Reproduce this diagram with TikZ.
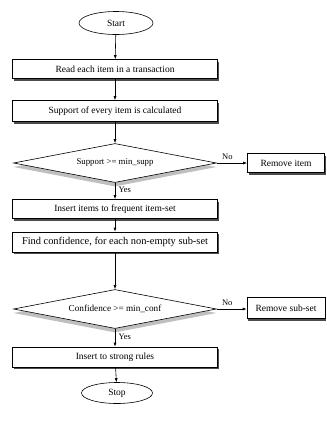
\documentclass[tikz,border=0pt]{standalone}
\usepackage{fontspec}
\setmainfont{Liberation Serif}
\usetikzlibrary{shapes.geometric,shadows,arrows.meta}
\begin{document}
\begin{tikzpicture}[x=1pt,y=-1pt,
  every node/.style={font=\fontsize{9.5}{11}\selectfont},
  proc/.style={draw, line width=0.6pt, fill=white, minimum width=205pt, minimum height=19pt, inner sep=0pt,
    drop shadow={shadow xshift=1.2pt, shadow yshift=-2pt, fill=black!70, opacity=1}},
  side/.style={proc, minimum width=77pt},
  term/.style={draw, ellipse, line width=0.6pt, fill=white, inner sep=0pt},
  dec/.style={draw, diamond, aspect=5.2, line width=0.6pt, fill=white, inner sep=0pt, minimum width=203pt, minimum height=39pt,
    drop shadow={shadow xshift=0pt, shadow yshift=-4pt, fill=black, opacity=0.25}},
  lbl/.style={font=\fontsize{8.5}{10}\selectfont},
  arr/.style={-{Latex[length=4pt,width=3pt]}, line width=0.6pt}]
\useasboundingbox (0,0) rectangle (327,421);
\node[term, minimum width=74pt, minimum height=23pt] (start) at (116,23) {Start};
\node[proc] (read) at (115,69) {Read each item in a transaction};
\node[proc, minimum height=21pt] (supp) at (115,111) {Support of every item is calculated};
\node[dec, font=\fontsize{8.8}{10}\selectfont] (d1) at (115,163) {Support >= min\_supp};
\node[side] (rem1) at (286,163) {Remove item};
\node[proc] (ins) at (115,209) {Insert items to frequent item-set};
\node[proc, minimum height=20pt, font=\fontsize{10.4}{12}\selectfont] (conf) at (115,242) {Find confidence, for each non-empty sub-set};
\node[dec, font=\fontsize{9.2}{10}\selectfont] (d2) at (115,309) {Confidence >= min\_conf};
\node[side, minimum width=78pt, minimum height=21pt] (rem2) at (286,308) {Remove sub-set};
\node[proc, minimum height=20pt] (strong) at (115,357) {Insert to strong rules};
\node[term, minimum width=71pt, minimum height=21pt] (stop) at (117,393) {Stop};
\draw[arr] (start) -- (read);
\draw[arr] (read) -- (supp);
\draw[arr] (supp) -- (d1);
\draw[arr] (d1.east) -- node[lbl, above, pos=0.35] {No} (rem1.west);
\draw[arr] (d1.south) -- node[lbl, right, pos=0.45] {Yes} (ins.north);
\draw[arr] (ins) -- (conf);
\draw[arr] (conf) -- (d2);
\draw[arr] (d2.east) -- node[lbl, above, pos=0.35] {No} (rem2.west |- d2.east);
\draw[arr] (d2.south) -- node[lbl, right, pos=0.45] {Yes} (strong.north);
\draw[arr] (strong) -- (stop);
\end{tikzpicture}
\end{document}
